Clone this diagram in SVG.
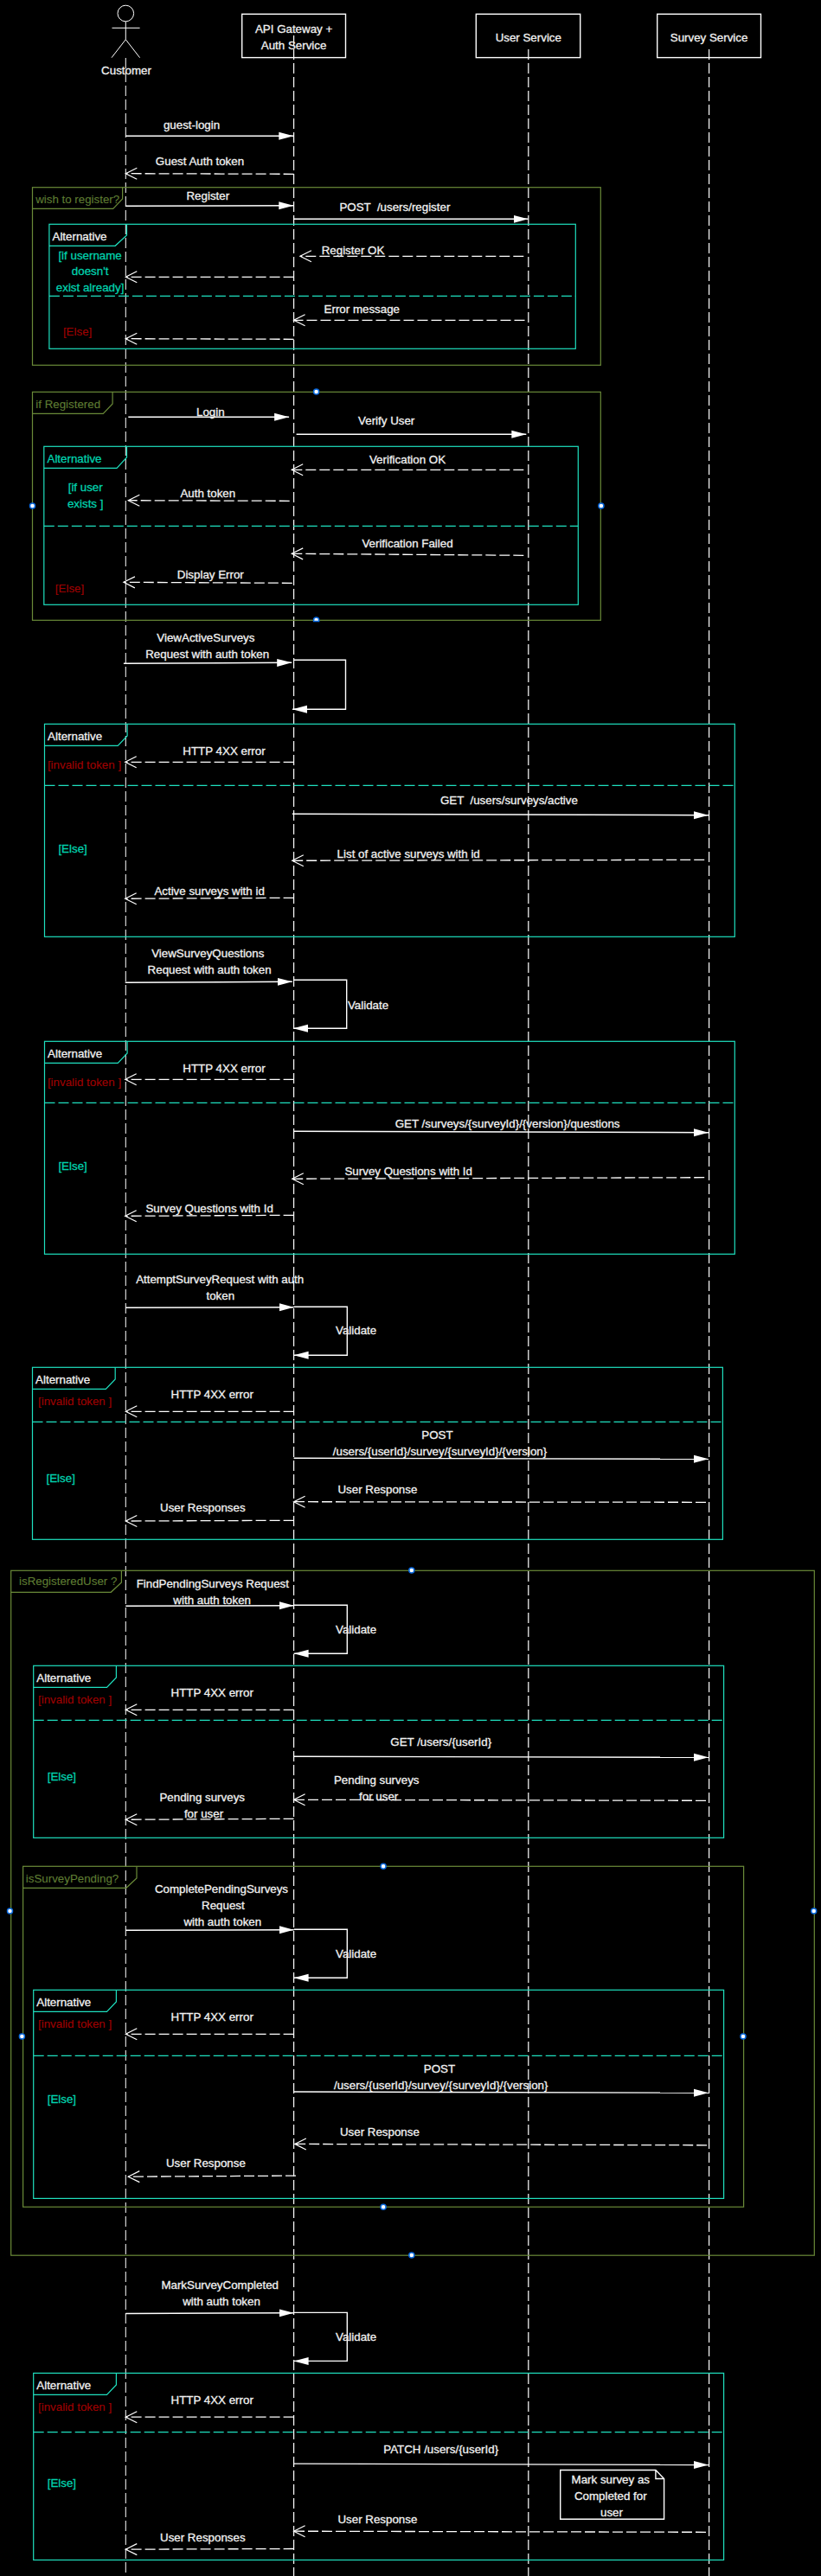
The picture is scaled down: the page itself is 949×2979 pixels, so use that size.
<svg xmlns="http://www.w3.org/2000/svg" width="949" height="2979" viewBox="0 0 949 2979">
<style>
text{font-family:"Liberation Sans",Arial,sans-serif;font-size:13.33px;fill:#f2f2f2;text-anchor:middle;dominant-baseline:central;stroke:#f2f2f2;stroke-width:.3;white-space:pre}
.t{fill:#00d2ae;stroke:#00d2ae}
.r{fill:#a00000;stroke:#a00000;stroke-width:.1}
.o{fill:#5f7d33;stroke:#5f7d33;stroke-width:.1}
.box{fill:none;stroke:#fff;stroke-width:1.4}
.life{fill:none;stroke:#fff;stroke-width:1.2;stroke-dasharray:12 4}
.msg{fill:none;stroke:#fff;stroke-width:1.4;marker-end:url(#block)}
.ret{fill:none;stroke:#fff;stroke-width:1.3;stroke-dasharray:12 4;marker-end:url(#open)}
.olive{fill:none;stroke:#6a8a38;stroke-width:1.2}
.alt{fill:none;stroke:#1fe0bf;stroke-width:1.2}
.div{fill:none;stroke:#1fe0bf;stroke-width:1.2;stroke-dasharray:12 4}
.h{fill:#fff;stroke:#0a6ae0;stroke-width:1.5}
</style>
<defs>
<marker id="block" markerUnits="userSpaceOnUse" markerWidth="20" markerHeight="12" refX="17" refY="6" orient="auto"><path d="M0,1.5L17,6L0,10.5z" fill="#fff"/></marker>
<marker id="open" markerUnits="userSpaceOnUse" markerWidth="16" markerHeight="16" refX="14" refY="8" orient="auto"><path d="M1,1.5L14,8L1,14.5" fill="none" stroke="#fff" stroke-width="1.2"/></marker>
</defs>
<rect width="949" height="2979" fill="#000"/>
<g id="lifelines">
<path class="life" style="stroke-width:1" d="M145.3 67V2979"/>
<path class="life" d="M339.6 41V2979"/>
<path class="life" d="M610.8 57V2979"/>
<path class="life" d="M819.6 57V2979"/>
</g>
<g id="customer">
<ellipse class="box" style="stroke-width:1" cx="145.3" cy="15.5" rx="9.3" ry="9.3"/>
<path class="box" style="stroke-width:1" d="M145.3 25V45.7M129.5 32.3H161.6M145.3 45.7L129 66.7M145.3 45.7L161.6 66.7"/>
<text x="146" y="81.7">Customer</text>
</g>
<g id="api-gateway">
<rect class="box" x="279.7" y="16.3" width="119.8" height="50.3"/>
<text x="339.6" y="33.5">API Gateway +</text>
<text x="339.6" y="52.5">Auth Service</text>
</g>
<g id="user-service">
<rect class="box" x="550.3" y="16.3" width="120.4" height="50.3"/>
<text x="610.8" y="43.5">User Service</text>
</g>
<g id="survey-service">
<rect class="box" x="759.7" y="16.3" width="119.8" height="50.3"/>
<text x="819.6" y="43.5">Survey Service</text>
</g>

<g id="frame-register">
<rect class="olive" x="37.5" y="216.7" width="656.8" height="205.6"/>
<path class="olive" d="M37.5 241.3H130.7L141.6 230V216.7"/>
<text class="o" x="89.7" y="230.7">wish to register?</text>
</g>
<g id="alt-register">
<rect class="alt" x="56.9" y="259.3" width="608.4" height="144"/>
<path class="alt" d="M56.9 284.3H133.2L146.5 272V259.3"/>
<text x="92" y="273.3">Alternative</text>
<text class="t" x="104.1" y="295">[if username</text>
<text class="t" x="104.1" y="313.7">doesn't</text>
<text class="t" x="104.1" y="332.7">exist already]</text>
<path class="div" d="M56.9 342.3H665.3"/>
<text class="r" x="89.6" y="383.7">[Else]</text>
</g>
<g id="frame-registered">
<rect class="olive" x="37.5" y="453.3" width="656.8" height="264"/>
<path class="olive" d="M37.5 478.3H119.2L130.1 467V453.3"/>
<text class="o" x="78.7" y="467.7">if Registered</text>
<circle class="h" cx="365.6" cy="453" r="3"/>
<path class="h" d="M362.6 718.5V717A3 3 0 0 1 368.6 717V718.5z"/>
<circle class="h" cx="37.5" cy="585" r="3"/>
<circle class="h" cx="694.9" cy="585" r="3"/>
</g>
<g id="alt-login">
<rect class="alt" x="50.8" y="516.3" width="617.5" height="183"/>
<path class="alt" d="M50.8 541.3H135L146.5 529V516.3"/>
<text class="t" x="86" y="530.3">Alternative</text>
<text class="t" x="98.7" y="563.7">[if user</text>
<text class="t" x="98.7" y="582.7">exists ]</text>
<path class="div" d="M50.8 608.3H668.3"/>
<text class="r" x="80.5" y="680.7">[Else]</text>
</g>
<g id="alt-active">
<rect class="alt" x="51.5" y="837.3" width="797.8" height="246"/>
<path class="alt" d="M51.5 862.3H136.2L147.1 851V837.3"/>
<text x="86.6" y="851.3">Alternative</text>
<text class="r" x="97.5" y="884.7">[invalid token ]</text>
<path class="div" d="M51.5 908.3H849.3"/>
<text class="t" x="84.1" y="981.7">[Else]</text>
</g>
<g id="alt-questions">
<rect class="alt" x="51.5" y="1204.3" width="797.8" height="246"/>
<path class="alt" d="M51.5 1229.3H136.2L147.1 1218V1204.3"/>
<text x="86.6" y="1218.3">Alternative</text>
<text class="r" x="97.5" y="1251.7">[invalid token ]</text>
<path class="div" d="M51.5 1275.3H849.3"/>
<text class="t" x="84.1" y="1348.7">[Else]</text>
</g>
<g id="alt-attempt">
<rect class="alt" x="37.5" y="1581.3" width="797.9" height="199"/>
<path class="alt" d="M37.5 1606.3H122.3L133.2 1595V1581.3"/>
<text x="72.6" y="1595.3">Alternative</text>
<text class="r" x="86.6" y="1620.7">[invalid token ]</text>
<path class="div" d="M37.5 1644.3H835.4"/>
<text class="t" x="70.2" y="1709">[Else]</text>
</g>
<g id="frame-registered-user">
<rect class="olive" x="12.7" y="1816.3" width="928.6" height="791.9"/>
<path class="olive" d="M12.7 1841.3H128.3L140.4 1830V1816.3"/>
<text class="o" x="78.7" y="1828.7">isRegisteredUser ?</text>
<circle class="h" cx="475.8" cy="1816" r="3"/>
<circle class="h" cx="475.8" cy="2608" r="3"/>
<circle class="h" cx="11.5" cy="2210" r="3"/>
<circle class="h" cx="940.7" cy="2210" r="3"/>
</g>
<g id="alt-pending">
<rect class="alt" x="38.7" y="1926.3" width="797.9" height="199"/>
<path class="alt" d="M38.7 1951.3H123.5L134.4 1940V1926.3"/>
<text x="73.8" y="1940.7">Alternative</text>
<text class="r" x="86.6" y="1965.7">[invalid token ]</text>
<path class="div" d="M38.7 1989.3H836.6"/>
<text class="t" x="71.4" y="2054">[Else]</text>
</g>
<g id="frame-survey-pending">
<rect class="olive" x="26.6" y="2158.3" width="833" height="393.9"/>
<path class="olive" d="M26.6 2183.3H145.9L158 2172V2158.3"/>
<text class="o" x="83.5" y="2172.7">isSurveyPending?</text>
<circle class="h" cx="443.1" cy="2158.3" r="3"/>
<circle class="h" cx="443.1" cy="2552.2" r="3"/>
<circle class="h" cx="25.4" cy="2355" r="3"/>
<circle class="h" cx="859" cy="2355" r="3"/>
</g>
<g id="alt-complete">
<rect class="alt" x="38.7" y="2301.3" width="797.9" height="241.1"/>
<path class="alt" d="M38.7 2326.3H123.5L134.4 2315V2301.3"/>
<text x="73.8" y="2315.3">Alternative</text>
<text class="r" x="86.6" y="2340.7">[invalid token ]</text>
<path class="div" d="M38.7 2377.3H836.6"/>
<text class="t" x="71.4" y="2427.3">[Else]</text>
</g>
<g id="alt-mark">
<rect class="alt" x="38.7" y="2744.4" width="797.9" height="216.1"/>
<path class="alt" d="M38.7 2769.3H123.5L134.4 2758V2744.4"/>
<text x="73.8" y="2758.4">Alternative</text>
<text class="r" x="86.6" y="2783.6">[invalid token ]</text>
<path class="div" d="M38.7 2812.7H836.6"/>
<text class="t" x="71.4" y="2871.9">[Else]</text>
</g>
<g id="note">
<path class="box" d="M647.7 2856.5H757.9L767.6 2866.5V2913.2H647.7zM757.9 2856.5V2866.5H767.6"/>
<text x="705.8" y="2867.3">Mark survey as</text>
<text x="705.8" y="2886.6">Completed for</text>
<text x="707" y="2905.8">user</text>
</g>

<g id="connectors">
<path class="msg" d="M145.3 157.3H339.3"/>
<text x="221.5" y="144.7">guest-login</text>
<path class="ret" d="M339.6 201.3L145.3 200.7"/>
<text x="231" y="186.7">Guest Auth token</text>
<path class="msg" d="M145.3 238.3L339.3 237.7"/>
<text x="240.3" y="226.7">Register</text>
<path class="msg" d="M339.6 253.3H610.5"/>
<text x="456.4" y="239.3">POST  /users/register</text>
<path class="ret" d="M605.3 296.3H346.9"/>
<text x="408" y="289.3">Register OK</text>
<path class="ret" d="M339.6 320.3H145.3"/>
<path class="ret" d="M606.5 370.3H339.6"/>
<text x="418.3" y="357.3">Error message</text>
<path class="ret" d="M339.6 392.3L145.3 391.7"/>

<path class="msg" d="M148.3 482.3H334.1"/>
<text x="243.3" y="476.7">Login</text>
<path class="msg" d="M342.6 502.3H608.3"/>
<text x="446.7" y="486.3">Verify User</text>
<path class="ret" d="M605.3 543.3H337.2"/>
<text x="471" y="531.3">Verification OK</text>
<path class="ret" d="M334.7 579.3L148.3 578.7"/>
<text x="240.3" y="570.3">Auth token</text>
<path class="ret" d="M605.3 642.3L337.2 640.3"/>
<text x="471" y="628.3">Verification Failed</text>
<path class="ret" d="M337.8 674.3L142.9 673.3"/>
<text x="243.3" y="664.3">Display Error</text>

<path class="msg" d="M142.9 767.3L337.2 766.3"/>
<text x="237.9" y="737.3">ViewActiveSurveys</text>
<text x="239.7" y="756.3">Request with auth token</text>
<path class="msg" d="M339.6 763.3H399.5V820.3H338"/>
<path class="ret" d="M339.6 881.3H144.7"/>
<text x="259" y="868.3">HTTP 4XX error</text>
<path class="msg" d="M337.8 941.3L819 942.7"/>
<text x="588.4" y="925.7">GET  /users/surveys/active</text>
<path class="ret" d="M814.2 994.3L337.8 995.3"/>
<text x="472.2" y="987.7">List of active surveys with id</text>
<path class="ret" d="M339.6 1038.3L144.7 1039.3"/>
<text x="242.1" y="1030.3">Active surveys with id</text>

<path class="msg" d="M144.7 1136.3L337.8 1135.3"/>
<text x="240.3" y="1102.7">ViewSurveyQuestions</text>
<text x="242.1" y="1121.7">Request with auth token</text>
<path class="msg" d="M339.6 1133.3H400.7V1189.3H339"/>
<text x="425.5" y="1162.3">Validate</text>
<path class="ret" d="M339.6 1248.3H144.7"/>
<text x="259" y="1235.3">HTTP 4XX error</text>
<path class="msg" d="M339 1308.3L819 1309.7"/>
<text x="586.6" y="1299.3">GET /surveys/{surveyId}/{version}/questions</text>
<path class="ret" d="M814.2 1361.7L337.8 1363.3"/>
<text x="472.2" y="1354.3">Survey Questions with Id</text>
<path class="ret" d="M339.6 1405.3L144.7 1406.3"/>
<text x="242.1" y="1397.3">Survey Questions with Id</text>

<path class="msg" d="M145.3 1512.3L339.6 1511.7"/>
<text x="254.2" y="1479.3">AttemptSurveyRequest with auth</text>
<text x="254.8" y="1498.7">token</text>
<path class="msg" d="M339.6 1511.3H401.3V1567.3H339.6"/>
<text x="411.6" y="1538.3">Validate</text>
<path class="ret" d="M339.6 1632.3H145.3"/>
<text x="245.2" y="1612.3">HTTP 4XX error</text>
<path class="msg" d="M339.6 1686.3L819 1687.3"/>
<text x="505.4" y="1659.3">POST</text>
<text x="508.5" y="1678.7">/users/{userId}/survey/{surveyId}/{version}</text>
<path class="ret" d="M816 1737.3L339.6 1736.7"/>
<text x="436.4" y="1722.7">User Response</text>
<path class="ret" d="M339.6 1758.3L145.3 1759"/>
<text x="234.3" y="1743.7">User Responses</text>

<path class="msg" d="M145.3 1857.3L339.6 1856.7"/>
<text x="245.8" y="1831.7">FindPendingSurveys Request</text>
<text x="245.2" y="1850.7">with auth token</text>
<path class="msg" d="M339.6 1856.3H401.3V1912.3H339.6"/>
<text x="411.6" y="1884.3">Validate</text>
<path class="ret" d="M339.6 1977.3H145.3"/>
<text x="245.2" y="1957.7">HTTP 4XX error</text>
<path class="msg" d="M339.6 2031.3L819 2032.3"/>
<text x="509.7" y="2014.3">GET /users/{userId}</text>
<path class="ret" d="M816 2082.3L339.6 2081.3"/>
<text x="435.2" y="2058">Pending surveys</text>
<text x="437.7" y="2077">for user</text>
<path class="ret" d="M339.6 2103.3L145.3 2104.3"/>
<text x="233.7" y="2078.7">Pending surveys</text>
<text x="235.5" y="2097.7">for user</text>

<path class="msg" d="M145.3 2232.3L339.6 2231.7"/>
<text x="256" y="2184.7">CompletePendingSurveys</text>
<text x="257.9" y="2203.7">Request</text>
<text x="257.3" y="2222.7">with auth token</text>
<path class="msg" d="M339.6 2231.3H401.3V2287.3H339.6"/>
<text x="411.6" y="2259.3">Validate</text>
<path class="ret" d="M339.6 2352.3H145.3"/>
<text x="245.2" y="2332.3">HTTP 4XX error</text>
<path class="msg" d="M339.6 2419L819 2420.3"/>
<text x="507.9" y="2392">POST</text>
<text x="509.7" y="2411.7">/users/{userId}/survey/{surveyId}/{version}</text>
<path class="ret" d="M817.2 2480.8L340.8 2479.4"/>
<text x="438.9" y="2465.4">User Response</text>
<path class="ret" d="M342 2516.1L148.3 2517.2"/>
<text x="237.9" y="2501.4">User Response</text>

<path class="msg" d="M145.3 2675.5L339.6 2674.7"/>
<text x="254.2" y="2642.5">MarkSurveyCompleted</text>
<text x="256" y="2661.4">with auth token</text>
<path class="msg" d="M339.6 2674.4H401.3V2730.4H339.6"/>
<text x="411.6" y="2702.4">Validate</text>
<path class="ret" d="M339.6 2795.2H145.3"/>
<text x="245.2" y="2775.6">HTTP 4XX error</text>
<path class="msg" d="M339.6 2849.1L819 2850.5"/>
<text x="509.7" y="2832.3">PATCH /users/{userId}</text>
<path class="ret" d="M816 2928.3L339.6 2927.2"/>
<text x="436.4" y="2913.5">User Response</text>
<path class="ret" d="M339.6 2947.5L145.3 2948.2"/>
<text x="234.3" y="2934.6">User Responses</text>
</g>
</svg>
